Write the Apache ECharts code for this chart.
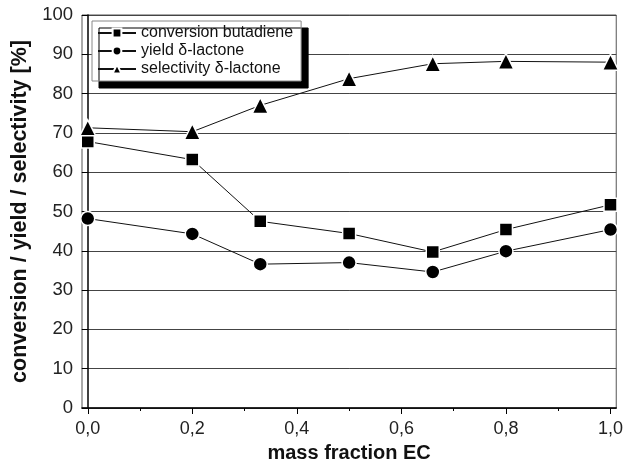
<!DOCTYPE html>
<html>
<head>
<meta charset="utf-8">
<script src="https://cdn.jsdelivr.net/npm/echarts@6/dist/echarts.min.js"></script>
<style>
  html, body { margin: 0; padding: 0; background: #fff; }
  #chart { width: 626px; height: 468px; }
</style>
</head>
<body>
<div id="chart"></div>
<script>
  // mass fraction EC
  var massFraction = [0, 0.2, 0.33, 0.5, 0.66, 0.8, 1.0];
  var conversion = [67.8, 63.2, 47.5, 44.4, 39.7, 45.4, 51.7];
  var yieldLactone = [48.2, 44.3, 36.6, 37.0, 34.6, 39.9, 45.4];
  var selectivity = [71.3, 70.3, 77.0, 83.8, 87.6, 88.2, 88.0];
  var majorTicks = [0, 0.2, 0.4, 0.6, 0.8, 1.0];
  var minorTicks = [0.1, 0.3, 0.5, 0.7, 0.9];
  var seriesNames = ['conversion butadiene', 'yield δ-lactone', 'selectivity δ-lactone'];

  function pairs(ys) {
    return massFraction.map(function (x, i) { return [x, ys[i]]; });
  }

  var font = '"Liberation Sans", Arial, sans-serif';
  var chart = echarts.init(document.getElementById('chart'));

  function lineSeries(name, ys, symbol, size) {
    return {
      name: name,
      type: 'line',
      data: pairs(ys),
      symbol: symbol,
      symbolSize: size,
      showAllSymbol: true,
      lineStyle: { color: '#111', width: 1 },
      itemStyle: { color: '#000', borderColor: '#fff', borderWidth: 1.5 },
      emphasis: { disabled: true },
      z: 5
    };
  }

  chart.setOption({
    animation: false,
    textStyle: { fontFamily: font },
    grid: {
      left: 82, right: 8, top: 15, bottom: 59,
      show: true, borderColor: '#555', borderWidth: 1
    },
    legend: {
      orient: 'vertical',
      left: 92, top: 21,
      padding: [4, 8, 4, 5],
      itemGap: 2,
      itemWidth: 38, itemHeight: 11,
      backgroundColor: '#fff',
      borderColor: '#888', borderWidth: 1,
      shadowColor: '#000', shadowBlur: 0, shadowOffsetX: 7, shadowOffsetY: 7,
      textStyle: { fontSize: 16, color: '#111', fontFamily: font },
      data: seriesNames
    },
    xAxis: [{
      type: 'value',
      min: -0.011, max: 1.011,
      name: 'mass fraction EC',
      nameLocation: 'middle',
      nameGap: 35,
      nameTextStyle: { fontSize: 20, fontWeight: 'bold', color: '#111' },
      axisLine: { show: true, onZero: false, lineStyle: { color: '#000', width: 1.5 } },
      axisTick: { show: true, length: 6, customValues: majorTicks, lineStyle: { color: '#000' } },
      axisLabel: {
        customValues: majorTicks, margin: 12, fontSize: 18, color: '#222',
        formatter: function (v) { return v.toFixed(1).replace('.', ','); }
      },
      splitLine: { show: false }
    }, {
      type: 'value',
      position: 'bottom',
      min: -0.011, max: 1.011,
      axisLine: { show: false },
      axisTick: { show: true, length: 3, customValues: minorTicks, lineStyle: { color: '#000' } },
      axisLabel: { show: false },
      splitLine: { show: false }
    }],
    yAxis: {
      type: 'value',
      min: 0, max: 100, interval: 10,
      name: 'conversion / yield / selectivity [%]',
      nameLocation: 'middle',
      nameGap: 50,
      nameTextStyle: { fontSize: 21.5, fontWeight: 'bold', color: '#111' },
      axisLine: { show: true, lineStyle: { color: '#000', width: 1.5 } },
      axisTick: { show: true, length: 6, lineStyle: { color: '#000' } },
      axisLabel: { margin: 9, fontSize: 18.5, color: '#222' },
      splitLine: { show: true, lineStyle: { color: '#444', width: 1 } }
    },
    series: [
      lineSeries(seriesNames[0], conversion, 'rect', 13),
      lineSeries(seriesNames[1], yieldLactone, 'circle', 14),
      lineSeries(seriesNames[2], selectivity, 'triangle', 16)
    ]
  });
</script>
</body>
</html>
